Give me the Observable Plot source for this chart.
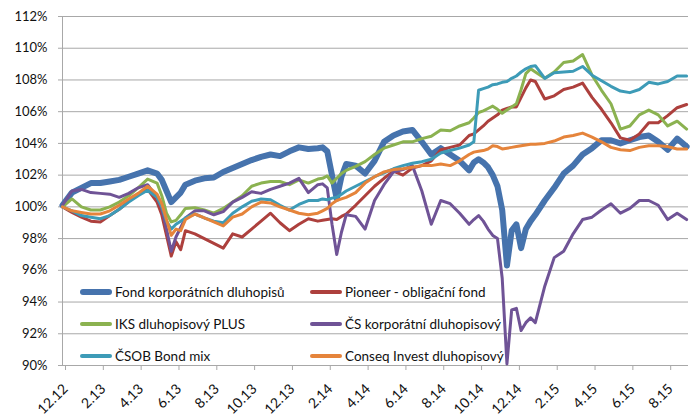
<!DOCTYPE html>
<html>
<head>
<meta charset="utf-8">
<script src="https://cdn.jsdelivr.net/npm/d3@7"></script>
<script src="https://cdn.jsdelivr.net/npm/@observablehq/plot@0.6"></script>
<style>
  body { margin: 0; background: #fff; font-family: Lato, "Open Sans", sans-serif; }
  #wrap { position: relative; width: 692px; height: 420px; }
  .lg { position: absolute; display: flex; align-items: center; font-size: 13.5px; color: #111; white-space: nowrap; height: 20px; }
  .sw { width: 32px; border-radius: 3px; margin-right: 3px; }
</style>
</head>
<body>
<div id="wrap"></div>
<script>
// month index: 0 = 12.12 (Dec 2012), 2 = 2.13, ...
const months = [0,0.5,1,1.5,2,2.5,3,3.5,4,4.5,
  5,5.25,5.5,5.75,6,6.25,6.5,7,7.5,8,
  8.5,9,9.5,10,10.5,11,11.5,12,12.5,13,
  13.5,13.75,14,14.25,14.5,14.75,15,15.5,16,16.5,
  17,17.5,18,18.5,19,19.5,20,20.5,21,21.5,
  21.75,22,22.25,22.5,22.75,23,23.25,23.5,23.75,24,
  24.25,24.5,24.75,25,25.5,26,26.5,27,27.5,28,
  28.5,29,29.5,30,30.5,31,31.5,32,32.5,33];

const tickMonths = [0,2,4,6,8,10,12,14,16,18,20,22,24,26,28,30,32];
const tickLabels = ["12.12","2.13","4.13","6.13","8.13","10.13","12.13","2.14","4.14","6.14","8.14","10.14","12.14","2.15","4.15","6.15","8.15"];
const yTicks = [90,92,94,96,98,100,102,104,106,108,110,112];

const seriesNames = ["Fond korporátních dluhopisů","Pioneer - obligační fond","IKS dluhopisový PLUS","ČS korporátní dluhopisový","ČSOB Bond mix","Conseq Invest dluhopisový"];

const fond = [100.1,100.9,101.2,101.5,101.5,101.6,101.7,101.9,102.1,102.3,
  102.1,101.7,101.0,100.3,100.6,100.9,101.4,101.65,101.8,101.85,
  102.2,102.45,102.7,102.95,103.15,103.3,103.2,103.5,103.75,103.65,
  103.7,103.75,103.5,102.0,100.5,101.9,102.7,102.6,102.1,102.9,
  104.1,104.5,104.75,104.85,104.1,103.3,103.7,103.3,102.9,102.3,
  102.8,103.0,102.8,102.5,102.0,101.3,99.8,96.3,98.5,98.9,
  97.4,98.6,99.1,99.5,100.4,101.2,102.1,102.6,103.3,103.7,
  104.2,104.2,104.0,104.2,104.4,104.5,104.1,103.6,104.3,103.8];

const pioneer = [100.0,99.65,99.35,99.1,99.05,99.45,99.85,100.35,100.8,101.1,
  100.3,99.5,98.2,96.9,97.8,97.3,98.5,98.3,98.0,97.7,
  97.4,98.3,98.1,98.6,99.1,99.6,99.0,98.5,98.9,99.25,
  99.1,99.15,99.2,99.25,99.2,99.4,99.55,100.1,100.7,101.3,
  101.8,102.25,102.0,102.45,102.6,102.9,103.6,103.75,103.9,104.5,
  104.6,104.85,105.1,105.4,105.6,105.8,106.1,106.2,106.3,106.3,
  106.9,107.5,108.0,107.9,106.8,107.0,107.4,107.55,107.8,106.9,
  106.15,105.3,104.35,104.2,104.6,105.3,105.3,105.75,106.25,106.45];

const iks = [100.0,100.5,100.0,99.8,99.8,100.0,100.3,100.7,101.2,101.75,
  101.5,100.7,99.6,99.05,99.15,99.5,99.9,99.95,99.8,99.6,
  99.9,100.3,100.7,101.3,101.5,101.6,101.6,101.4,101.7,101.5,
  101.75,101.8,101.95,101.5,101.8,102.1,102.3,102.55,102.85,103.3,
  103.7,103.9,104.1,104.1,104.3,104.45,104.85,104.8,105.1,105.3,
  105.6,105.95,106.05,106.2,106.35,106.15,105.9,106.1,106.3,106.5,
  107.4,108.4,108.7,108.5,108.1,108.5,109.1,109.2,109.6,108.3,
  107.35,106.5,104.9,105.1,105.8,106.1,105.8,105.1,105.4,104.9];

const cs = [100.1,101.0,101.1,100.9,100.85,100.8,100.6,100.85,101.2,101.4,
  100.6,99.9,98.6,97.2,98.1,98.7,99.3,99.75,99.75,99.5,
  99.7,100.3,100.6,100.95,100.85,101.1,101.3,101.5,101.8,100.9,
  101.4,101.45,101.2,98.9,97.0,98.4,99.5,99.4,98.6,100.4,
  101.4,102.2,102.35,102.6,101.0,98.9,100.4,100.2,99.6,98.9,
  99.2,99.45,99.1,98.6,98.2,98.0,95.5,90.1,93.5,93.6,
  92.2,92.7,93.0,92.7,95.0,96.8,97.2,98.3,99.2,99.35,
  99.8,100.2,99.6,99.9,100.4,100.4,100.1,99.2,99.6,99.2];

const csob = [100.0,99.75,99.45,99.35,99.25,99.45,99.85,100.3,100.7,101.05,
  100.6,100.0,99.1,98.6,98.9,99.1,99.3,99.55,99.3,99.1,
  99.0,99.6,100.0,100.35,100.5,100.45,100.1,99.8,100.15,100.4,
  100.4,100.5,100.45,100.55,100.6,100.8,101.0,101.3,101.6,101.9,
  102.15,102.4,102.6,102.75,102.85,103.0,103.4,103.55,103.7,103.9,
  104.1,107.35,107.45,107.55,107.7,107.75,107.85,107.9,108.1,108.25,
  108.5,108.7,108.85,108.9,108.1,108.45,108.5,108.55,108.85,108.3,
  107.95,107.6,107.3,107.2,107.4,107.85,107.75,107.9,108.25,108.25];

const conseq = [100.0,99.75,99.65,99.55,99.55,99.75,100.1,100.5,100.85,101.3,
  100.8,100.2,99.2,98.2,98.6,98.5,99.2,99.55,99.3,99.05,
  98.8,99.35,99.55,100.0,100.3,100.25,100.0,99.8,99.6,99.5,
  99.6,99.75,99.9,100.2,100.4,100.5,100.6,100.9,101.5,101.9,
  102.2,102.35,102.4,102.5,102.6,102.6,102.7,102.6,102.9,103.3,
  103.45,103.5,103.55,103.65,103.85,103.8,103.65,103.7,103.75,103.8,
  103.85,103.9,103.95,103.95,104.0,104.15,104.4,104.5,104.65,104.4,
  104.1,103.75,103.6,103.55,103.75,103.85,103.85,103.8,103.65,103.65];

const seriesValues = [fond, pioneer, iks, cs, csob, conseq];
const colors = ["#4673ad","#ad403d","#8bb250","#6f5396","#3d9bb7","#e5843b"];
const lineWidths = [6, 3, 3, 3, 3, 3];

const rows = [];
seriesValues.forEach((vals, i) => vals.forEach((v, j) => rows.push({series: seriesNames[i], m: months[j], v})));

const lineMarks = seriesNames.map((name, i) =>
  Plot.line(rows.filter(d => d.series === name), {
    x: "m", y: "v", stroke: colors[i], strokeWidth: lineWidths[i],
    strokeLinejoin: "round", strokeLinecap: "round"
  })
);

const chart = Plot.plot({
  width: 692, height: 420,
  marginLeft: 62, marginRight: 4, marginTop: 16, marginBottom: 55,
  style: {fontFamily: "Lato, 'Open Sans', sans-serif", fontSize: "13px", color: "#111", background: "#fff"},
  x: {domain: [0, 33.1], label: null},
  y: {domain: [90, 112], label: null},
  marks: [
    Plot.gridY(yTicks, {stroke: "#a8a8a8", strokeOpacity: 1, strokeWidth: 1}),
    Plot.ruleX([0], {stroke: "#a8a8a8", strokeWidth: 1}),
    Plot.axisY({ticks: yTicks, tickFormat: d => d + "%", tickSize: 4, tickPadding: 11, stroke: "#a8a8a8", label: null}),
    Plot.axisX({ticks: tickMonths, tickFormat: d => tickLabels[tickMonths.indexOf(d)], tickRotate: -45, tickSize: 5, tickPadding: 16, dx: 3, fontSize: 14, stroke: "#a8a8a8", label: null}),
    ...lineMarks
  ]
});

const wrap = document.getElementById("wrap");
wrap.appendChild(chart);

// legend overlaid inside the plot area (two columns, three rows)
const legendOrder = [[0, 0, 0], [1, 1, 0], [2, 0, 1], [3, 1, 1], [4, 0, 2], [5, 1, 2]];
const colX = [80, 310];
const rowY = [292, 324, 356];
legendOrder.forEach(([i, c, r]) => {
  const el = document.createElement("div");
  el.className = "lg";
  el.style.left = colX[c] + "px";
  el.style.top = (rowY[r] - 10) + "px";
  const sw = document.createElement("div");
  sw.className = "sw";
  sw.style.background = colors[i];
  sw.style.height = (i === 0 ? 6 : 4) + "px";
  el.appendChild(sw);
  const tx = document.createElement("span");
  tx.textContent = seriesNames[i];
  el.appendChild(tx);
  wrap.appendChild(el);
});
</script>
</body>
</html>
